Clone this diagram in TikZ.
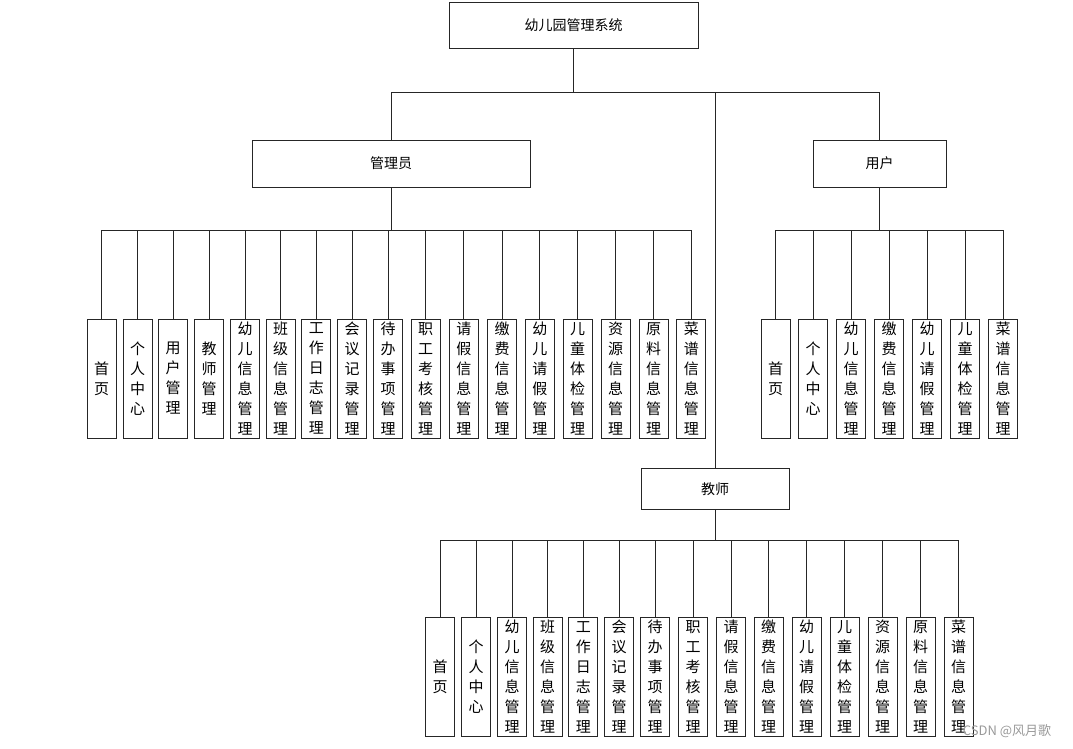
\documentclass[tikz,border=0pt]{standalone}
\usepackage{fontspec}
\newfontfamily\cjk{Noto Sans CJK SC}
\begin{document}
\begin{tikzpicture}[x=1pt,y=-1pt]
	% Styles
	\tikzstyle{fleche}=[-,draw=black!85,line width=1pt]
	\tikzstyle{noeud}=[draw=black!85,line width=1pt,inner sep=0pt,font=\cjk\fontsize{14}{16}\selectfont]
	\tikzstyle{feuille}=[draw=black!85,line width=1pt,inner sep=0pt,minimum width=29pt,minimum height=119pt,text width=20pt,align=center,font=\cjk\fontsize{15}{20}\selectfont]
	\tikzstyle{commentaire}=[black!40,font=\cjk\fontsize{13}{13}\selectfont]
	% Cadre
	\useasboundingbox (0,0) rectangle (1073,748);
	% Niveaux des bus
	\coordinate (busR) at (0,92);
	\coordinate (busA) at (0,230);
	\coordinate (busU) at (0,230);
	\coordinate (busT) at (0,540.7);
	% Noeuds
	\node[noeud,minimum width=249pt,minimum height=46pt] (Sys) at (573.5,25) {幼儿园管理系统};
	\node[noeud,minimum width=278pt,minimum height=47pt] (Adm) at (391,163.5) {管理员};
	\node[noeud,minimum width=133pt,minimum height=47pt] (Usr) at (879.5,163.5) {用户};
	\node[noeud,minimum width=148pt,minimum height=41pt] (Tea) at (715,489) {教师};
	% Feuilles : administrateur
	\foreach \x/\t [count=\i] in {101.5/{首\\页}, 137.5/{个\\人\\中\\心}, 173.2/{用\\户\\管\\理}, 209/{教\\师\\管\\理},
		245/{幼\\儿\\信\\息\\管\\理}, 280.7/{班\\级\\信\\息\\管\\理}, 316.3/{工\\作\\日\\志\\管\\理},
		352/{会\\议\\记\\录\\管\\理}, 388/{待\\办\\事\\项\\管\\理}, 425.5/{职\\工\\考\\核\\管\\理},
		463.8/{请\\假\\信\\息\\管\\理}, 502/{缴\\费\\信\\息\\管\\理}, 539.8/{幼\\儿\\请\\假\\管\\理},
		577.7/{儿\\童\\体\\检\\管\\理}, 615.5/{资\\源\\信\\息\\管\\理}, 653.5/{原\\料\\信\\息\\管\\理},
		691.3/{菜\\谱\\信\\息\\管\\理}}
		{\node[feuille] (A\i) at (\x,378.5) {\t};}
	% Feuilles : utilisateur
	\foreach \x/\t [count=\i] in {775.5/{首\\页}, 813.2/{个\\人\\中\\心}, 851.2/{幼\\儿\\信\\息\\管\\理},
		889.2/{缴\\费\\信\\息\\管\\理}, 927.2/{幼\\儿\\请\\假\\管\\理}, 965.2/{儿\\童\\体\\检\\管\\理},
		1003.2/{菜\\谱\\信\\息\\管\\理}}
		{\node[feuille] (U\i) at (\x,378.5) {\t};}
	% Feuilles : enseignant
	\foreach \x/\t [count=\i] in {440.2/{首\\页}, 476.2/{个\\人\\中\\心}, 512/{幼\\儿\\信\\息\\管\\理},
		547.7/{班\\级\\信\\息\\管\\理}, 583.3/{工\\作\\日\\志\\管\\理}, 619/{会\\议\\记\\录\\管\\理},
		655/{待\\办\\事\\项\\管\\理}, 693.2/{职\\工\\考\\核\\管\\理}, 731.2/{请\\假\\信\\息\\管\\理},
		768.7/{缴\\费\\信\\息\\管\\理}, 806.7/{幼\\儿\\请\\假\\管\\理}, 844.5/{儿\\童\\体\\检\\管\\理},
		882.5/{资\\源\\信\\息\\管\\理}, 920.5/{原\\料\\信\\息\\管\\理}, 958.7/{菜\\谱\\信\\息\\管\\理}}
		{\node[feuille] (T\i) at (\x,677) {\t};}
	\node[commentaire] (wm) at (1007,731) {CSDN @风月歌};
	% Arcs
	\foreach \n in {Adm,Usr,Tea}
		\draw[fleche] (Sys.south) -- (Sys.south |- busR) -| (\n.north);
	\foreach \i in {1,...,17}
		\draw[fleche] (Adm.south) -- (Adm.south |- busA) -| (A\i.north);
	\foreach \i in {1,...,7}
		\draw[fleche] (Usr.south) -- (Usr.south |- busU) -| (U\i.north);
	\foreach \i in {1,...,15}
		\draw[fleche] (Tea.south) -- (Tea.south |- busT) -| (T\i.north);
\end{tikzpicture}
\end{document}
